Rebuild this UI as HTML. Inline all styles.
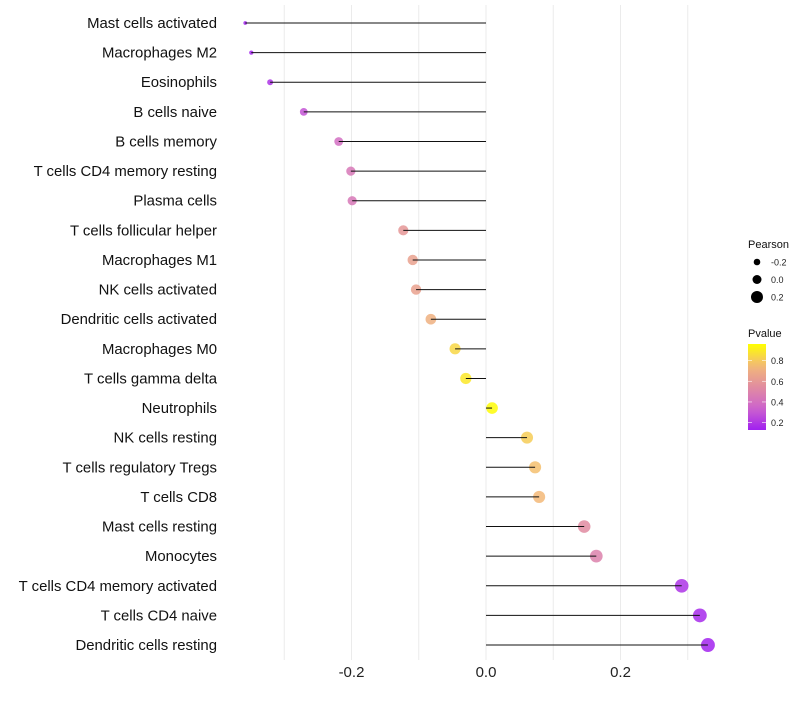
<!DOCTYPE html>
<html><head><meta charset="utf-8"><style>
body{margin:0;background:#fff;font-family:"Liberation Sans",sans-serif}
</style></head><body>
<svg id="c" width="800" height="700" xmlns="http://www.w3.org/2000/svg"></svg>
<script>
const categories=["Mast cells activated","Macrophages M2","Eosinophils","B cells naive","B cells memory","T cells CD4 memory resting","Plasma cells","T cells follicular helper","Macrophages M1","NK cells activated","Dendritic cells activated","Macrophages M0","T cells gamma delta","Neutrophils","NK cells resting","T cells regulatory  Tregs ","T cells CD8","Mast cells resting","Monocytes","T cells CD4 memory activated","T cells CD4 naive","Dendritic cells resting"];
const pearson=[-0.358,-0.349,-0.321,-0.271,-0.219,-0.201,-0.199,-0.123,-0.109,-0.104,-0.082,-0.046,-0.030,0.009,0.061,0.073,0.079,0.146,0.164,0.291,0.318,0.330];
const pvalues=[0.15,0.16,0.2,0.3,0.4,0.45,0.45,0.6,0.65,0.65,0.72,0.85,0.9,0.96,0.82,0.78,0.76,0.55,0.5,0.2,0.17,0.15];
const xTicks=[-0.2,0,0.2];
const xTickLabels=["-0.2","0.0","0.2"];
const legendSizes=[-0.2,0,0.2];
const legendPTicks=[0.8,0.6,0.4,0.2];
const NS="http://www.w3.org/2000/svg";
const svg=document.getElementById('c');
const x=v=>486+v*672.5;
const y=i=>23+i*29.62;
const sizeDom=[-0.36,-0.32,-0.27,-0.2,-0.12,0,0.15,0.34];
const sizeRng=[1.8,3.0,3.9,4.6,5.1,5.8,6.3,7.0];
function r(v){for(let k=0;k<sizeDom.length-1;k++){if(v<=sizeDom[k+1]){const t=Math.max(0,(v-sizeDom[k])/(sizeDom[k+1]-sizeDom[k]));return sizeRng[k]+(sizeRng[k+1]-sizeRng[k])*t;}}return sizeRng[sizeRng.length-1];}
function lerp(a,b,t){return a.map((v,i)=>Math.round(v+(b[i]-v)*t));}
function col(p){const lo=0.14,hi=0.97;let t=Math.min(1,Math.max(0,(p-lo)/(hi-lo)));
 const s=[[160,32,240],[205,100,205],[225,140,160],[243,185,120],[255,255,0]];
 const k=Math.min(3,Math.floor(t*4));const c=lerp(s[k],s[k+1],t*4-k);return `rgb(${c[0]},${c[1]},${c[2]})`;}
function el(t,a,p){const e=document.createElementNS(NS,t);for(const k in a)e.setAttribute(k,a[k]);(p||svg).appendChild(e);return e;}
[-0.3,-0.2,-0.1,0,0.1,0.2,0.3].forEach(v=>{const g=el('line',{x1:x(v),x2:x(v),y1:5,y2:660,stroke:'#ebebeb','stroke-width':1});

});
xTicks.forEach((v,i)=>{const t=el('text',{x:x(v),y:677,'text-anchor':'middle','font-size':15,fill:'#222'});t.textContent=xTickLabels[i];

});
categories.forEach((c,i)=>{
 const t=el('text',{x:217,y:y(i)+5,'text-anchor':'end','font-size':14.9,fill:'#111'});t.textContent=c;
 
 
 const d=el('circle',{cx:x(pearson[i]),cy:y(i),r:r(pearson[i]),fill:col(pvalues[i]),'fill-opacity':0.85});
 
 
 const l=el('line',{x1:x(0),x2:x(pearson[i]),y1:y(i),y2:y(i),stroke:'#111','stroke-width':1});
 
 
});
let t=el('text',{x:748,y:248,'font-size':11,fill:'#111'});t.textContent='Pearson';


const legR=[3.3,4.5,6];
legendSizes.forEach((v,i)=>{const cy=262+i*17.5;const c=el('circle',{cx:757,cy:cy,r:legR[i],fill:'#000'});


const tt=el('text',{x:771,y:cy+3.5,'font-size':9,fill:'#222'});tt.textContent=v===0?'0.0':String(v);

});
t=el('text',{x:748,y:337,'font-size':11,fill:'#111'});t.textContent='Pvalue';


const defs=el('defs',{});const lg=el('linearGradient',{id:'g',x1:0,y1:1,x2:0,y2:0},defs);
for(let k=0;k<=10;k++){const p=0.14+k*(0.97-0.14)/10;el('stop',{offset:k/10,'stop-color':col(p)},lg);}
const bar=el('rect',{x:748,y:344,width:18,height:86,fill:'url(#g)'});


legendPTicks.forEach(p=>{const yy=344+(0.96-p)*103.5;
el('line',{x1:748,x2:752,y1:yy,y2:yy,stroke:'#fff','stroke-width':0.6});el('line',{x1:762,x2:766,y1:yy,y2:yy,stroke:'#fff','stroke-width':0.6});
const tt=el('text',{x:771,y:yy+3.5,'font-size':9,fill:'#222'});tt.textContent=p.toFixed(1);

});
</script>
</body></html>
